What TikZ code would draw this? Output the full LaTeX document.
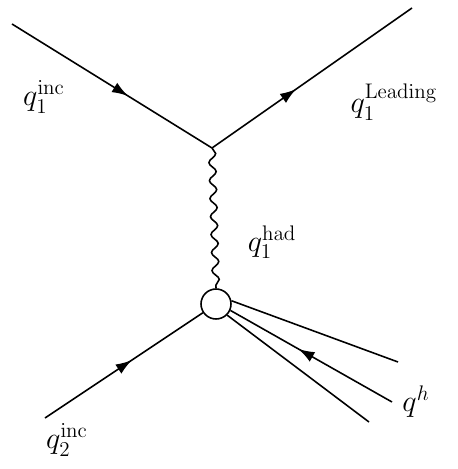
\documentclass[tikz,border=0pt]{standalone}
\usepackage{amsmath}
\usetikzlibrary{arrows.meta,decorations.markings,decorations.pathmorphing}

\begin{document}
\begin{tikzpicture}[
x=0.02cm,y=-0.02cm,
line width=0.9pt,
quark/.style={postaction={decorate},decoration={markings,mark=at position #1 with {\arrow{Latex[length=3.2mm,width=2.2mm]}}}},
gluon/.style={decorate,decoration={snake,amplitude=0.07cm,segment length=0.36cm}},
blobnode/.style={draw,circle,inner sep=0pt,minimum size=0.6cm,fill=white},
lbl/.style={font=\LARGE,inner sep=0pt}]
\useasboundingbox (0,0) rectangle (457,469);
% vertices and free ends
\coordinate (in1) at (12,24);
\coordinate (vtx) at (212,148);
\coordinate (out1) at (412,8);
\coordinate (in2) at (45,418);
\coordinate (h1) at (398,362);
\coordinate (h2) at (392,402);
\coordinate (h3) at (369,422);
\node[blobnode] (blob) at (216,304) {};
% lines
\draw[quark=0.58] (in1) -- (vtx);
\draw[quark=0.42] (vtx) -- (out1);
\draw[gluon] (vtx) -- (blob.north);
\draw[quark=0.55] (in2) -- (blob);
\draw (blob.12) -- (h1);
\draw[quark=0.58] (h2) -- (blob.-24);
\draw (blob.-45) -- (h3);
% labels
\node[lbl] (q1in) at (44,97) {$q_1^{\mathrm{inc}}$};
\node[lbl] (q1lead) at (394,102) {$q_1^{\mathrm{Leading}}$};
\node[lbl] (q1had) at (272,242) {$q_1^{\mathrm{had}}$};
\node[lbl] (qh) at (416,402) {$q^{h}$};
\node[lbl] (q2in) at (67,440) {$q_2^{\mathrm{inc}}$};
\end{tikzpicture}
\end{document}
